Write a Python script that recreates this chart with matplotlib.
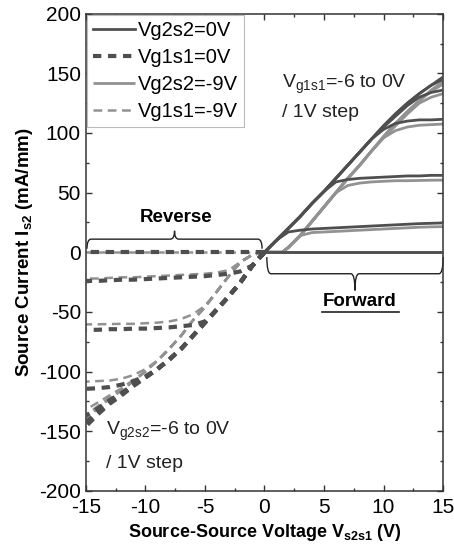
import matplotlib
matplotlib.use("Agg")
import matplotlib.pyplot as plt
from matplotlib.path import Path
from matplotlib.patches import PathPatch
from matplotlib.ticker import MultipleLocator

plt.rcParams["font.family"] = ["Liberation Sans", "DejaVu Sans"]
plt.rcParams["mathtext.fontset"] = "custom"
plt.rcParams["mathtext.rm"] = "Liberation Sans"
plt.rcParams["mathtext.it"] = "Liberation Sans"
plt.rcParams["mathtext.bf"] = "Liberation Sans:bold"
plt.rcParams["axes.unicode_minus"] = False

# gate steps: 0, -1, -2, -3, -4, -5, -6 V
steps = [0, -1, -2, -3, -4, -5, -6]

# ---- forward (Vs2s1 > 0), swept Vg1s1 ----
x_fwd = [0, 1, 2, 3, 4, 5, 6, 7, 8, 9, 10, 11, 12, 13, 14, 15]
fwd_vg2s2_0 = [
    [0, 10, 20, 30, 41, 51, 62, 73, 84, 95, 106, 116, 125, 133, 140, 147],
    [0, 10, 20, 30, 41, 51, 62, 73, 84, 95, 106, 116, 125, 133, 140, 145],
    [0, 10, 20, 30, 41, 51, 62, 73, 84, 95, 105, 114, 123, 130, 134, 136],
    [0, 10, 20, 30, 41, 51, 62, 73, 84, 95, 103, 108, 110, 111, 111, 111.5],
    [0, 10, 20, 30, 41, 51, 59, 61, 62, 62.5, 63, 63.5, 64, 64, 64.5, 64.5],
    [0, 10, 17, 18.5, 19.5, 20, 20.5, 21, 21.5, 22, 22.5, 23, 23.5, 24, 24.3, 24.6],
    [0, 0, 0, 0, 0, 0, 0, 0, 0, 0, 0, 0, 0, 0, 0, 0],
]
x_fwd_g = [0, 1.5, 2, 3, 4, 5, 6, 7, 8, 9, 10, 11, 12, 13, 14, 15]
fwd_vg2s2_9 = [
    [0, 0, 4, 14, 26, 38, 50, 62, 73, 85, 97, 108, 118, 127, 136, 143],
    [0, 0, 4, 14, 26, 38, 50, 62, 73, 85, 97, 108, 118, 127, 135, 141],
    [0, 0, 4, 14, 26, 38, 50, 62, 73, 85, 96, 106, 116, 125, 130, 133],
    [0, 0, 4, 14, 26, 38, 50, 62, 73, 85, 96, 102, 105, 106.5, 107, 107.5],
    [0, 0, 4, 14, 26, 38, 50, 56, 58, 59, 59.5, 60, 60, 60.2, 60.4, 60.5],
    [0, 0, 4, 14, 16.5, 17, 17.5, 18, 18.5, 19, 19.5, 20, 20.5, 21, 21.3, 21.5],
    [0, 0, 0, 0, 0, 0, 0, 0, 0, 0, 0, 0, 0, 0, 0, 0],
]

# ---- reverse (Vs2s1 < 0), swept Vg2s2 ----
x_rev = [0, -1, -2, -3, -4, -5, -6, -7, -8, -9, -10, -11, -12, -13, -14, -15]
rev_vg1s1_0 = [
    [0, -11, -25, -37, -48, -59, -70, -81, -90, -98, -105, -112, -120, -127, -136, -146],
    [0, -11, -25, -37, -48, -59, -70, -81, -90, -98, -105, -112, -119, -126, -134, -143],
    [0, -11, -25, -37, -48, -59, -70, -81, -90, -98, -105, -111, -118, -124, -131, -137],
    [0, -11, -25, -37, -48, -59, -70, -81, -90, -98, -104, -108, -111, -113, -114, -114.5],
    [0, -11, -25, -37, -48, -58, -61, -62, -63, -63.5, -64, -64, -64.5, -64.5, -65, -65],
    [0, -11, -16, -18, -19, -20, -20.5, -21, -21.5, -22, -22.5, -23, -23, -23.5, -24, -24],
    [0, 0, 0, 0, 0, 0, 0, 0, 0, 0, 0, 0, 0, 0, 0, 0],
]
rev_vg1s1_9 = [
    [0, -2, -8, -20, -33, -46, -57, -70, -81, -91, -100, -108, -116, -123, -131, -140],
    [0, -2, -8, -20, -33, -46, -57, -70, -81, -91, -100, -108, -116, -122, -129, -137],
    [0, -2, -8, -20, -33, -46, -57, -70, -81, -91, -100, -107, -114, -120, -126, -132],
    [0, -2, -8, -20, -33, -46, -57, -70, -81, -91, -98, -103, -106, -107.5, -108, -108.5],
    [0, -2, -8, -20, -33, -45, -52, -56, -58, -59, -59.5, -60, -60, -60.2, -60.4, -60.5],
    [0, -2, -8, -15, -17, -18, -18.5, -19, -19.5, -20, -20.5, -21, -21, -21.5, -22, -22],
    [0, 0, 0, 0, 0, 0, 0, 0, 0, 0, 0, 0, 0, 0, 0, 0],
]

dark = "#4f4f4f"
gray = "#929292"


def brace(ax, x0, x1, y, h_end, h_tip, r=0.35):
    xm = (x0 + x1) / 2
    verts = [(x0, y + h_end), (x0, y), (x0 + r, y), (xm - r, y), (xm, y), (xm, y + h_tip),
             (xm, y + h_tip), (xm, y), (xm + r, y), (x1 - r, y), (x1, y), (x1, y + h_end)]
    codes = [Path.MOVETO, Path.CURVE3, Path.CURVE3, Path.LINETO, Path.CURVE3, Path.CURVE3,
             Path.MOVETO, Path.CURVE3, Path.CURVE3, Path.LINETO, Path.CURVE3, Path.CURVE3]
    ax.add_patch(PathPatch(Path(verts, codes), fill=False, lw=1.0, ec="#222222",
                           clip_on=False))


fig = plt.figure(figsize=(4.54, 5.49), dpi=100)
ax = fig.add_axes([0.189, 0.106, 0.787, 0.869])

for i, s in enumerate(steps):
    ax.plot(x_fwd_g, fwd_vg2s2_9[i], color=gray, lw=2.0, solid_capstyle="butt",
            label="Vg2s2=-9V" if i == 0 else None, zorder=2)
    ax.plot(x_fwd, fwd_vg2s2_0[i], color=dark, lw=2.0,
            label="Vg2s2=0V" if i == 0 else None, zorder=3)
    ax.plot(x_rev, rev_vg1s1_9[i], color=gray, lw=1.8, dashes=(3.5, 2.2),
            label="Vg1s1=-9V" if i == 0 else None, zorder=2)
    ax.plot(x_rev, rev_vg1s1_0[i], color=dark, lw=3.0, dashes=(2.0, 1.6),
            label="Vg1s1=0V" if i == 0 else None, zorder=3)

ax.set_xlim(-15, 15)
ax.set_ylim(-200, 200)
ax.xaxis.set_major_locator(MultipleLocator(5))
ax.xaxis.set_minor_locator(MultipleLocator(2.5))
ax.yaxis.set_major_locator(MultipleLocator(50))
ax.yaxis.set_minor_locator(MultipleLocator(25))
ax.tick_params(which="both", direction="in", top=True, right=True, labelsize=15,
               color="#333333")
ax.tick_params(axis="x", pad=5)
ax.tick_params(which="major", length=4, width=1)
ax.tick_params(which="minor", length=2.5, width=1)
for sp in ax.spines.values():
    sp.set_linewidth(1.1)
    sp.set_color("#333333")

ax.set_xlabel(r"Source-Source Voltage V$_{\mathbf{s2s1}}$ (V)", fontsize=13,
              fontweight="bold", labelpad=4)
ax.set_ylabel(r"Source Current I$_{\mathbf{s2}}$ (mA/mm)", fontsize=13.5,
              fontweight="bold", labelpad=3)

handles, labels = ax.get_legend_handles_labels()
order = [labels.index(k) for k in ["Vg2s2=0V", "Vg1s1=0V", "Vg2s2=-9V", "Vg1s1=-9V"]]
leg = ax.legend([handles[k] for k in order], [labels[k] for k in order],
                loc="upper left", fontsize=14.5, frameon=True, fancybox=False,
                edgecolor="#bbbbbb", framealpha=1, borderaxespad=0.05,
                handlelength=2.1, handletextpad=0.15, labelspacing=0.4,
                borderpad=0.3)
leg.get_frame().set_linewidth(0.8)

ax.text(1.5, 141, r"V$_{\mathrm{g1s1}}$=-6 to 0V", fontsize=14, va="center", color="#222222")
ax.text(1.5, 117, "/ 1V step", fontsize=14, va="center", color="#222222")
ax.text(-13.3, -150, r"V$_{\mathrm{g2s2}}$=-6 to 0V", fontsize=14, va="center", color="#222222")
ax.text(-13.3, -177, "/ 1V step", fontsize=14, va="center", color="#222222")

ax.text(-7.4, 29, "Reverse", fontsize=13.5, fontweight="bold", ha="center", va="center")
brace(ax, -14.9, -0.2, 11, -8, 7)
ax.text(8.0, -41, "Forward", fontsize=13.5, fontweight="bold", ha="center", va="center")
ax.plot([4.8, 11.3], [-50, -50], color="#222222", lw=1.2)
brace(ax, 0.2, 15, -18, 14, -14)

fig.savefig("out.png", dpi=100)
